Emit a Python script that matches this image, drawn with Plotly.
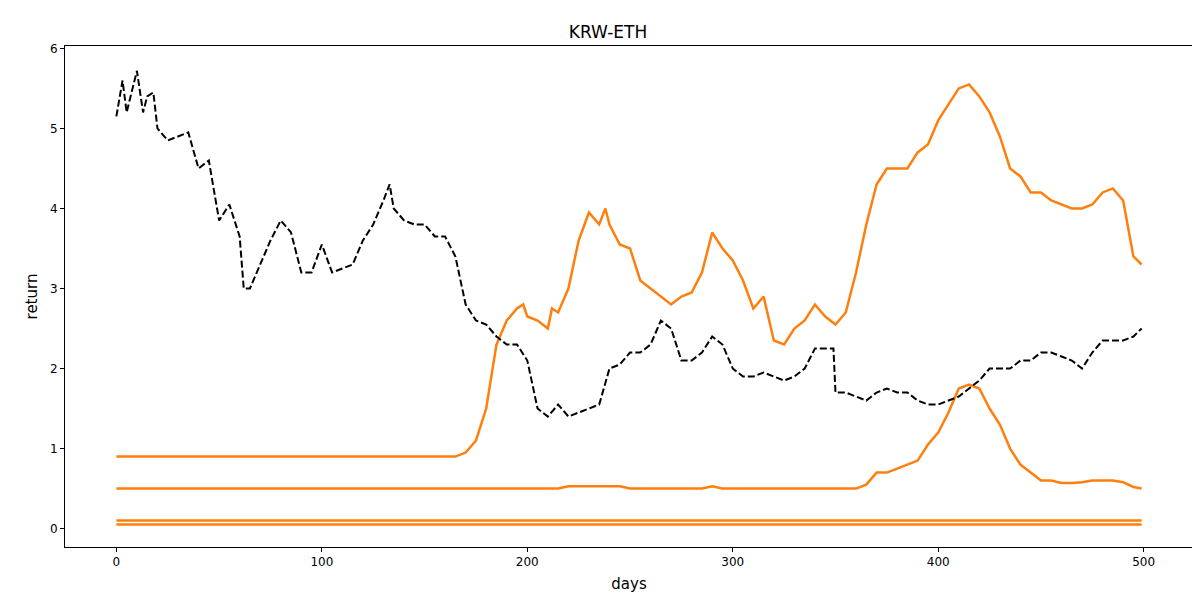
import plotly.graph_objects as go

# black dashed reference
bh_days = [0, 3, 5, 8, 10, 13, 15, 18, 20, 25, 30, 35, 40, 45, 50, 55, 60, 62, 65, 70, 75, 80, 85, 90, 95,
           100, 105, 110, 115, 120, 125, 130, 133, 135, 140, 145, 150, 155, 160, 165, 170, 175, 180, 185,
           190, 195, 200, 205, 210, 215, 220, 225, 230, 235, 240, 245, 250, 255, 260, 265, 270, 275, 280,
           285, 290, 295, 300, 305, 310, 315, 320, 325, 330, 335, 340, 345, 349, 350, 355, 360, 365, 370,
           375, 380, 385, 390, 395, 400, 405, 410, 415, 420, 425, 430, 435, 440, 445, 450, 455, 460, 465,
           470, 475, 480, 485, 490, 495, 499]
bh_vals = [5.15, 5.6, 5.2, 5.5, 5.72, 5.2, 5.4, 5.45, 5.0, 4.85, 4.9, 4.95, 4.5, 4.6, 3.85, 4.05, 3.65, 3.0,
           3.0, 3.3, 3.6, 3.85, 3.7, 3.2, 3.2, 3.55, 3.2, 3.25, 3.3, 3.6, 3.8, 4.1, 4.3, 4.0, 3.85, 3.8,
           3.8, 3.65, 3.65, 3.4, 2.8, 2.6, 2.55, 2.4, 2.3, 2.3, 2.1, 1.5, 1.4, 1.55, 1.4, 1.45, 1.5, 1.55,
           2.0, 2.05, 2.2, 2.2, 2.3, 2.6, 2.5, 2.1, 2.1, 2.2, 2.4, 2.3, 2.0, 1.9, 1.9, 1.95, 1.9, 1.85, 1.9,
           2.0, 2.25, 2.25, 2.25, 1.7, 1.7, 1.65, 1.6, 1.7, 1.75, 1.7, 1.7, 1.6, 1.55, 1.55, 1.6, 1.65, 1.75,
           1.85, 2.0, 2.0, 2.0, 2.1, 2.1, 2.2, 2.2, 2.15, 2.1, 2.0, 2.2, 2.35, 2.35, 2.35, 2.4, 2.5]

s1_days = [0, 100, 160, 165, 170, 175, 180, 185, 190, 195, 198, 200, 205, 210, 212, 215, 220, 225, 230, 235,
           238, 240, 245, 250, 255, 260, 265, 270, 275, 280, 285, 290, 295, 300, 305, 310, 315, 320, 325,
           330, 335, 340, 345, 350, 355, 360, 365, 370, 375, 380, 385, 390, 395, 400, 405, 410, 415, 420,
           425, 430, 435, 440, 445, 450, 455, 460, 465, 470, 475, 480, 485, 490, 495, 499]
s1_vals = [0.9, 0.9, 0.9, 0.9, 0.95, 1.1, 1.5, 2.3, 2.6, 2.75, 2.8, 2.65, 2.6, 2.5, 2.75, 2.7, 3.0, 3.6,
           3.95, 3.8, 4.0, 3.8, 3.55, 3.5, 3.1, 3.0, 2.9, 2.8, 2.9, 2.95, 3.2, 3.7, 3.5, 3.35, 3.1, 2.75,
           2.9, 2.35, 2.3, 2.5, 2.6, 2.8, 2.65, 2.55, 2.7, 3.2, 3.8, 4.3, 4.5, 4.5, 4.5, 4.7, 4.8, 5.1, 5.3,
           5.5, 5.55, 5.4, 5.2, 4.9, 4.5, 4.4, 4.2, 4.2, 4.1, 4.05, 4.0, 4.0, 4.05, 4.2, 4.25, 4.1, 3.4, 3.3]

s2_days = [0, 215, 220, 245, 250, 285, 290, 295, 360, 365, 370, 375, 380, 385, 390, 395, 400, 405, 410,
           415, 420, 425, 430, 435, 440, 445, 450, 455, 460, 465, 470, 475, 480, 485, 490, 495, 499]
s2_vals = [0.5, 0.5, 0.53, 0.53, 0.5, 0.5, 0.53, 0.5, 0.5, 0.55, 0.7, 0.7, 0.75, 0.8, 0.85, 1.05, 1.2,
           1.45, 1.75, 1.8, 1.75, 1.5, 1.3, 1.0, 0.8, 0.7, 0.6, 0.6, 0.57, 0.57, 0.58, 0.6, 0.6, 0.6,
           0.58, 0.52, 0.5]

flat_days = [0, 499]
s3_vals = [0.1, 0.1]
s4_vals = [0.05, 0.05]

orange = "#ff7f0e"
fig = go.Figure()
for x, y in [(s1_days, s1_vals), (s2_days, s2_vals), (flat_days, s3_vals), (flat_days, s4_vals)]:
    fig.add_trace(go.Scatter(x=x, y=y, mode="lines", line=dict(color=orange, width=2.5)))
fig.add_trace(go.Scatter(x=bh_days, y=bh_vals, mode="lines",
                         line=dict(color="black", width=2, dash="7px,3px")))

ax = dict(showgrid=False, zeroline=False, showline=True, linecolor="black", mirror=True,
          ticks="outside", tickcolor="black", ticklen=4, automargin=False,
          tickfont=dict(size=12, color="black"))
fig.update_layout(
    width=1200, height=600, showlegend=False,
    paper_bgcolor="white", plot_bgcolor="white",
    margin=dict(l=57, r=15, t=38, b=61),
    font=dict(family="DejaVu Sans", color="black"),
    title=dict(text="KRW-ETH", x=0.5, xanchor="center", y=0.96, yanchor="middle",
               font=dict(size=17), automargin=False),
    xaxis=dict(ax, range=[-25, 524], tickvals=[0, 100, 200, 300, 400, 500],
               title=dict(text="days", font=dict(size=15), standoff=10)),
    yaxis=dict(ax, range=[-0.23, 6.03], tickvals=[0, 1, 2, 3, 4, 5, 6],
               title=dict(text="return", font=dict(size=15), standoff=8)),
)
fig.write_html("out.html")
